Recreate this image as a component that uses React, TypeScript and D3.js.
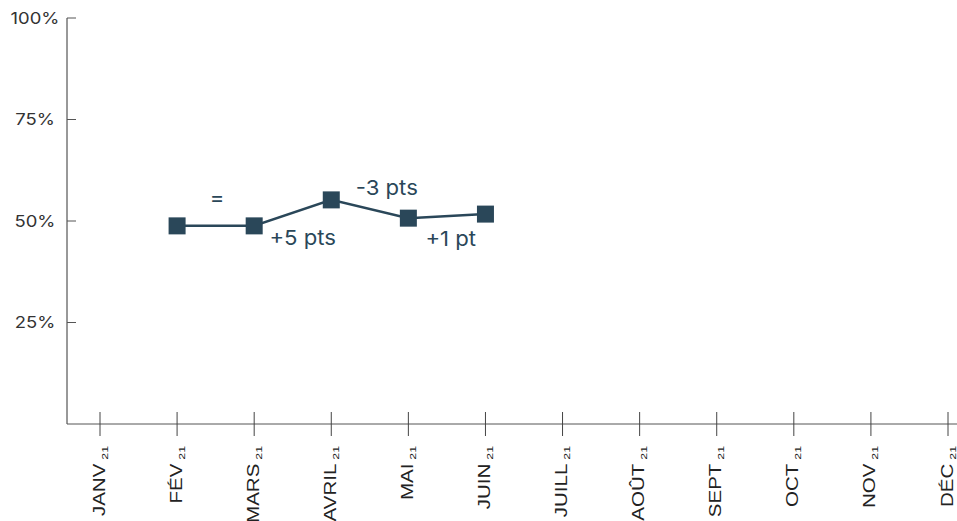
import React from "react";
import * as d3 from "d3";

// months of 2021, shown on the x axis
const months = ["JANV", "FÉV", "MARS", "AVRIL", "MAI", "JUIN", "JUILL", "AOÛT", "SEPT", "OCT", "NOV", "DÉC"];
const yearTag = "21";
// share (%) per month, only Feb to June are known
const seriesMonths = ["FÉV", "MARS", "AVRIL", "MAI", "JUIN"];
const seriesValues = [48.8, 48.8, 55.2, 50.7, 51.7];
// evolution labels, placed at a (fractional) month index and a value
const annTexts = ["=", "+5 pts", "-3 pts", "+1 pt"];
const annIndex = [1.52, 2.63, 3.72, 4.55];
const annValues = [53.9, 44.1, 56.4, 43.8];
const yTicks = [25, 50, 75, 100];

const W = 957;
const H = 521;
const ink = "#2a4759";

export default function App() {
  const x = d3.scaleLinear().domain([0, months.length - 1]).range([100, 948]);
  const y = d3.scaleLinear().domain([0, 100]).range([424, 18]);
  const axisX = 67;

  const pts = seriesMonths.map((m, i) => [x(months.indexOf(m)), y(seriesValues[i])] as [number, number]);
  const line = d3.line()(pts) || "";

  return (
    <svg width={W} height={H} style={{ position: "absolute", left: 0, top: 0 }}>
      <rect width={W} height={H} fill="#fff" />
      {/* y axis */}
      <line x1={axisX} x2={axisX} y1={y(100)} y2={y(0)} stroke="#333" strokeWidth={1} />
      {yTicks.map((t) => (
        <g key={t}>
          <line x1={axisX} x2={axisX + 9} y1={y(t)} y2={y(t)} stroke="#555" strokeWidth={1} />
          <text
            transform={`translate(35,${y(t)}) scale(1.12,1)`}
            dy="0.36em"
            textAnchor="middle"
            fontFamily="Inter, 'Noto Sans', sans-serif"
            fontSize={16.5}
            fill="#333"
          >
            {t}%
          </text>
        </g>
      ))}
      {/* x axis */}
      <line x1={axisX} x2={W} y1={y(0)} y2={y(0)} stroke="#555" strokeWidth={1} />
      {months.map((m, i) => (
        <g key={m}>
          <line x1={x(i)} x2={x(i)} y1={y(0) - 12} y2={y(0) + 12} stroke="#444" strokeWidth={1} />
          <text
            transform={`translate(${x(i) + 4.5},${y(0) + 22}) rotate(-90) scale(1.3,1)`}
            textAnchor="end"
            fontFamily="'Liberation Sans', Arial, sans-serif"
            fontSize={15.8}
            fill="#222"
          >
            {m}
            <tspan fontSize={9.5} dx={3} dy={3}>
              {yearTag}
            </tspan>
          </text>
        </g>
      ))}
      {/* series */}
      <path d={line} fill="none" stroke={ink} strokeWidth={2.5} />
      {pts.map(([px, py], i) => (
        <rect key={i} x={px - 8.5} y={py - 8.5} width={17} height={17} fill={ink} />
      ))}
      {annTexts.map((t, i) => (
        <text
          key={t}
          transform={`translate(${x(annIndex[i])},${y(annValues[i])}) scale(1.08,1)`}
          textAnchor="middle"
          fontFamily="Inter, 'Noto Sans', sans-serif"
          fontSize={20.5}
          fill={ink}
        >
          {t}
        </text>
      ))}
    </svg>
  );
}
